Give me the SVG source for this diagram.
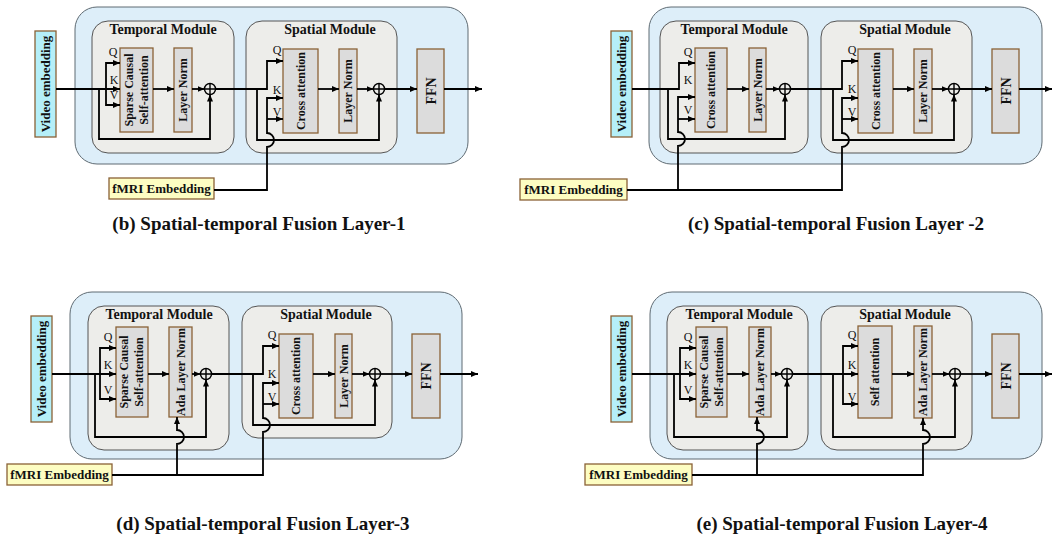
<svg xmlns="http://www.w3.org/2000/svg" width="1053" height="542" viewBox="0 0 1053 542">
<style>
text{font-family:"Liberation Serif","Times New Roman",serif;fill:#111}
.outer{fill:#ddeef9;stroke:#5f6b73;stroke-width:1}
.mod{fill:#ededea;stroke:#555;stroke-width:1}
.blk{fill:#dcdcdc;stroke:#8a6236;stroke-width:1.3}
.vid{fill:#b5eff8;stroke:#8a6236;stroke-width:1.3}
.fmri{fill:#fdfdc2;stroke:#8a6236;stroke-width:1.3}
.title{font-size:14px;font-weight:bold;text-anchor:middle}
.rl{font-size:12px;font-weight:bold;text-anchor:middle}
.big{font-size:13px;font-weight:bold;text-anchor:middle}
.ffn{font-size:14px;font-weight:bold;text-anchor:middle}
.qkv{font-size:12px;text-anchor:middle}
.cap{font-size:19px;font-weight:bold;text-anchor:middle}
.c{fill:none;stroke:#000;stroke-width:1.8}
.a{marker-end:url(#arr)}
.plus{fill:none;stroke:#000;stroke-width:1.4}
</style>
<defs>
<marker id="arr" markerUnits="userSpaceOnUse" markerWidth="7" markerHeight="6" refX="7" refY="3" orient="auto">
<path d="M0,0 L7,3 L0,6 z" fill="#000"/>
</marker>
</defs>

<!-- ================= Panel (b) ================= -->
<g id="b-outer"><rect class="outer" x="75" y="7" width="393" height="157" rx="22"/></g>
<g id="b-temporal"><rect class="mod" x="92" y="21" width="142" height="132" rx="16"/><text class="title" x="163" y="34">Temporal Module</text></g>
<g id="b-spatial"><rect class="mod" x="246" y="21" width="151" height="132" rx="16"/><text class="title" x="330" y="34">Spatial Module</text></g>
<g id="b-video"><rect class="vid" x="35" y="31" width="21" height="106"/><text class="big" transform="translate(45.5,84) rotate(-90)" y="4.5">Video embedding</text></g>
<g id="b-fmri"><rect class="fmri" x="109" y="178" width="105" height="21"/><text class="big" x="161.5" y="193">fMRI Embedding</text></g>
<g id="b-scsa"><rect class="blk" x="120" y="48" width="33" height="84"/><text class="rl" transform="translate(136.5,90) rotate(-90)"><tspan x="0" y="-4">Sparse Causal</tspan><tspan x="0" y="11">Self-attention</tspan></text></g>
<g id="b-ln1"><rect class="blk" x="174" y="48" width="18" height="84"/><text class="rl" transform="translate(183,90) rotate(-90)" y="4">Layer Norm</text></g>
<g id="b-plus1"><circle class="plus" cx="210" cy="89" r="5.5"/><path class="plus" d="M204.5,89H215.5M210,83.5V94.5"/></g>
<g id="b-ca"><rect class="blk" x="283" y="49" width="35" height="84"/><text class="rl" transform="translate(300.5,91) rotate(-90)" y="4">Cross attention</text></g>
<g id="b-ln2"><rect class="blk" x="339" y="49" width="18" height="84"/><text class="rl" transform="translate(348,91) rotate(-90)" y="4">Layer Norm</text></g>
<g id="b-plus2"><circle class="plus" cx="379" cy="89" r="5.5"/><path class="plus" d="M373.5,89H384.5M379,83.5V94.5"/></g>
<g id="b-ffn"><rect class="blk" x="417" y="49" width="27" height="84"/><text class="ffn" transform="translate(430.5,91) rotate(-90)" y="5">FFN</text></g>
<g id="b-labels">
<text class="qkv" x="113" y="56">Q</text><text class="qkv" x="114" y="84">K</text><text class="qkv" x="114" y="99">V</text>
<text class="qkv" x="277" y="54">Q</text><text class="qkv" x="277" y="94">K</text><text class="qkv" x="277" y="116">V</text>
</g>

<!-- ================= Panel (c) ================= -->
<g id="c-outer"><rect class="outer" x="649" y="7" width="393" height="157" rx="22"/></g>
<g id="c-temporal"><rect class="mod" x="660" y="21" width="148" height="132" rx="16"/><text class="title" x="734" y="34">Temporal Module</text></g>
<g id="c-spatial"><rect class="mod" x="821" y="21" width="151" height="132" rx="16"/><text class="title" x="905" y="34">Spatial Module</text></g>
<g id="c-video"><rect class="vid" x="611" y="31" width="21" height="106"/><text class="big" transform="translate(621.5,84) rotate(-90)" y="4.5">Video embedding</text></g>
<g id="c-fmri"><rect class="fmri" x="520" y="179" width="107" height="21"/><text class="big" x="573.5" y="194">fMRI Embedding</text></g>
<g id="c-ca1"><rect class="blk" x="695" y="48" width="32" height="84"/><text class="rl" transform="translate(711,90) rotate(-90)" y="4">Cross attention</text></g>
<g id="c-ln1"><rect class="blk" x="749" y="48" width="17" height="84"/><text class="rl" transform="translate(757.5,90) rotate(-90)" y="4">Layer Norm</text></g>
<g id="c-plus1"><circle class="plus" cx="785" cy="89" r="5.5"/><path class="plus" d="M779.5,89H790.5M785,83.5V94.5"/></g>
<g id="c-ca2"><rect class="blk" x="858" y="49" width="35" height="84"/><text class="rl" transform="translate(875.5,91) rotate(-90)" y="4">Cross attention</text></g>
<g id="c-ln2"><rect class="blk" x="914" y="49" width="18" height="84"/><text class="rl" transform="translate(923,91) rotate(-90)" y="4">Layer Norm</text></g>
<g id="c-plus2"><circle class="plus" cx="954" cy="89" r="5.5"/><path class="plus" d="M948.5,89H959.5M954,83.5V94.5"/></g>
<g id="c-ffn"><rect class="blk" x="992" y="49" width="27" height="84"/><text class="ffn" transform="translate(1005.5,91) rotate(-90)" y="5">FFN</text></g>
<g id="c-labels">
<text class="qkv" x="688" y="56">Q</text><text class="qkv" x="688" y="84">K</text><text class="qkv" x="688" y="114">V</text>
<text class="qkv" x="852" y="54">Q</text><text class="qkv" x="852" y="93">K</text><text class="qkv" x="852" y="116">V</text>
</g>

<!-- ================= Panel (d) ================= -->
<g id="d-outer"><rect class="outer" x="70" y="292" width="392" height="167" rx="22"/></g>
<g id="d-temporal"><rect class="mod" x="88" y="306" width="141" height="144" rx="16"/><text class="title" x="159" y="319">Temporal Module</text></g>
<g id="d-spatial"><rect class="mod" x="242" y="306" width="150" height="132" rx="16"/><text class="title" x="326" y="319">Spatial Module</text></g>
<g id="d-video"><rect class="vid" x="31" y="316" width="21" height="106"/><text class="big" transform="translate(41.5,369) rotate(-90)" y="4.5">Video embedding</text></g>
<g id="d-fmri"><rect class="fmri" x="7" y="464" width="105" height="21"/><text class="big" x="59.5" y="479">fMRI Embedding</text></g>
<g id="d-scsa"><rect class="blk" x="116" y="327" width="32" height="90"/><text class="rl" transform="translate(132,372) rotate(-90)"><tspan x="0" y="-4">Sparse Causal</tspan><tspan x="0" y="11">Self-attention</tspan></text></g>
<g id="d-ada"><rect class="blk" x="169" y="327" width="23" height="90"/><text class="rl" transform="translate(180.5,372) rotate(-90)" y="4">Ada Layer Norm</text></g>
<g id="d-plus1"><circle class="plus" cx="206" cy="374" r="5.5"/><path class="plus" d="M200.5,374H211.5M206,368.5V379.5"/></g>
<g id="d-ca"><rect class="blk" x="279" y="334" width="34" height="84"/><text class="rl" transform="translate(296,376) rotate(-90)" y="4">Cross attention</text></g>
<g id="d-ln"><rect class="blk" x="335" y="334" width="17" height="84"/><text class="rl" transform="translate(343.5,376) rotate(-90)" y="4">Layer Norm</text></g>
<g id="d-plus2"><circle class="plus" cx="375" cy="374" r="5.5"/><path class="plus" d="M369.5,374H380.5M375,368.5V379.5"/></g>
<g id="d-ffn"><rect class="blk" x="412" y="334" width="28" height="84"/><text class="ffn" transform="translate(426,376) rotate(-90)" y="5">FFN</text></g>
<g id="d-labels">
<text class="qkv" x="108" y="341">Q</text><text class="qkv" x="108" y="369">K</text><text class="qkv" x="108" y="394">V</text>
<text class="qkv" x="272" y="339">Q</text><text class="qkv" x="272" y="378">K</text><text class="qkv" x="272" y="401">V</text>
</g>

<!-- ================= Panel (e) ================= -->
<g id="e-outer"><rect class="outer" x="650" y="292" width="392" height="167" rx="22"/></g>
<g id="e-temporal"><rect class="mod" x="667" y="306" width="141" height="144" rx="16"/><text class="title" x="739" y="319">Temporal Module</text></g>
<g id="e-spatial"><rect class="mod" x="821" y="306" width="151" height="144" rx="16"/><text class="title" x="905" y="319">Spatial Module</text></g>
<g id="e-video"><rect class="vid" x="611" y="316" width="21" height="106"/><text class="big" transform="translate(621.5,369) rotate(-90)" y="4.5">Video embedding</text></g>
<g id="e-fmri"><rect class="fmri" x="585" y="464" width="107" height="21"/><text class="big" x="638.5" y="479">fMRI Embedding</text></g>
<g id="e-scsa"><rect class="blk" x="696" y="327" width="31" height="90"/><text class="rl" transform="translate(711.5,372) rotate(-90)"><tspan x="0" y="-4">Sparse Causal</tspan><tspan x="0" y="11">Self-attention</tspan></text></g>
<g id="e-ada1"><rect class="blk" x="749" y="327" width="22" height="90"/><text class="rl" transform="translate(760,372) rotate(-90)" y="4">Ada Layer Norm</text></g>
<g id="e-plus1"><circle class="plus" cx="787" cy="374" r="5.5"/><path class="plus" d="M781.5,374H792.5M787,368.5V379.5"/></g>
<g id="e-sa"><rect class="blk" x="858" y="326" width="34" height="92"/><text class="rl" transform="translate(875,372) rotate(-90)" y="4">Self attention</text></g>
<g id="e-ada2"><rect class="blk" x="914" y="326" width="18" height="92"/><text class="rl" transform="translate(923,372) rotate(-90)" y="4">Ada Layer Norm</text></g>
<g id="e-plus2"><circle class="plus" cx="955" cy="374" r="5.5"/><path class="plus" d="M949.5,374H960.5M955,368.5V379.5"/></g>
<g id="e-ffn"><rect class="blk" x="992" y="334" width="27" height="84"/><text class="ffn" transform="translate(1005.5,376) rotate(-90)" y="5">FFN</text></g>
<g id="e-labels">
<text class="qkv" x="688" y="341">Q</text><text class="qkv" x="688" y="369">K</text><text class="qkv" x="688" y="394">V</text>
<text class="qkv" x="852" y="339">Q</text><text class="qkv" x="852" y="369">K</text><text class="qkv" x="852" y="401">V</text>
</g>

<!-- ================= Connectors ================= -->
<g id="connectors">
<!-- b -->
<path class="c a" d="M56,89H120"/>
<path class="c a" d="M106,89V63H120"/>
<path class="c a" d="M106,89V105H120"/>
<path class="c a" d="M99,89V139H210V94.5"/>
<path class="c a" d="M153,89H174"/>
<path class="c a" d="M192,89H204.5"/>
<path class="c a" d="M215.5,89H267V61H283"/>
<path class="c a" d="M257,89V140H379V94.5"/>
<path class="c a" d="M214,190H267V147A7,7 0 0 0 267,133V98H283"/>
<path class="c a" d="M267,119H283"/>
<path class="c a" d="M318,89H339"/>
<path class="c a" d="M357,89H373.5"/>
<path class="c a" d="M384.5,89H417"/>
<path class="c a" d="M444,89H482"/>
<!-- c -->
<path class="c a" d="M632,89H679V63H695"/>
<path class="c a" d="M668,89V139H785V94.5"/>
<path class="c a" d="M627,190H842V147A7,7 0 0 0 842,133V98H858"/>
<path class="c a" d="M842,119H858"/>
<path class="c a" d="M678,190V146A7,7 0 0 0 678,132V97H695"/>
<path class="c a" d="M678,119H695"/>
<path class="c a" d="M727,89H749"/>
<path class="c a" d="M766,89H779.5"/>
<path class="c a" d="M790.5,89H842V61H858"/>
<path class="c a" d="M833,89V140H954V94.5"/>
<path class="c a" d="M893,89H914"/>
<path class="c a" d="M932,89H948.5"/>
<path class="c a" d="M959.5,89H992"/>
<path class="c a" d="M1019,89H1052"/>
<!-- d -->
<path class="c a" d="M52,374H116"/>
<path class="c a" d="M100,374V348H116"/>
<path class="c a" d="M100,374V399H116"/>
<path class="c a" d="M95,374V437H206V379.5"/>
<path class="c a" d="M148,374H169"/>
<path class="c a" d="M192,374H200.5"/>
<path class="c a" d="M211.5,374H263V346H279"/>
<path class="c a" d="M253,374V425H375V379.5"/>
<path class="c a" d="M112,475H263V432A7,7 0 0 0 263,418V383H279"/>
<path class="c a" d="M263,404H279"/>
<path class="c a" d="M177,475V444A7,7 0 0 0 177,430V417"/>
<path class="c a" d="M313,374H335"/>
<path class="c a" d="M352,374H369.5"/>
<path class="c a" d="M380.5,374H412"/>
<path class="c a" d="M440,374H478"/>
<!-- e -->
<path class="c a" d="M632,374H696"/>
<path class="c a" d="M680,374V348H696"/>
<path class="c a" d="M680,374V399H696"/>
<path class="c a" d="M674,374V437H787V379.5"/>
<path class="c a" d="M727,374H749"/>
<path class="c a" d="M771,374H781.5"/>
<path class="c a" d="M792.5,374H858"/>
<path class="c a" d="M843,374V346H858"/>
<path class="c a" d="M843,374V404H858"/>
<path class="c a" d="M833,374V437H955V379.5"/>
<path class="c a" d="M892,374H914"/>
<path class="c a" d="M932,374H949.5"/>
<path class="c a" d="M960.5,374H992"/>
<path class="c a" d="M1019,374H1052"/>
<path class="c a" d="M692,475H923V444A7,7 0 0 0 923,430V418"/>
<path class="c a" d="M757,475V444A7,7 0 0 0 757,430V417"/>
</g>

<g id="captions">
<text class="cap" x="259" y="230">(b) Spatial-temporal Fusion Layer-1</text>
<text class="cap" x="836" y="230">(c) Spatial-temporal Fusion Layer -2</text>
<text class="cap" x="263" y="530">(d) Spatial-temporal Fusion Layer-3</text>
<text class="cap" x="842" y="530">(e) Spatial-temporal Fusion Layer-4</text>
</g>
</svg>
